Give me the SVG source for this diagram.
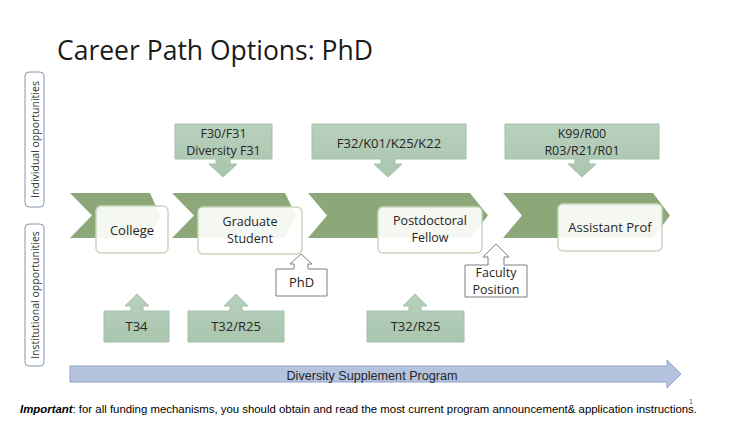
<svg xmlns="http://www.w3.org/2000/svg" width="750" height="422" viewBox="0 0 750 422">
<defs>
<linearGradient id="cg" x1="0" y1="0" x2="0" y2="1">
<stop offset="0" stop-color="#B8D0BC"/>
<stop offset="1" stop-color="#A9C6AF"/>
</linearGradient>
<style>
.t{font-family:"Open Sans","Liberation Sans",sans-serif;fill:#262626;text-anchor:middle;}
.lbl{font-size:13px;}
.lb2{font-size:12.5px;}
.side{font-family:"Open Sans","Liberation Sans",sans-serif;font-size:10.5px;fill:#333333;text-anchor:middle;}
.chev{fill:#8DA878;}
.stage{fill:#FFFFFF;fill-opacity:0.9;stroke:#C8D7BC;stroke-width:1.5;}
.call{fill:url(#cg);stroke:#A3C0A8;stroke-width:1;}
.wcall{fill:#FFFFFF;stroke:#7F7F7F;stroke-width:1;}
.sidebox{fill:#FFFFFF;stroke:#8497B0;stroke-width:1;}
</style>
</defs>
<rect width="750" height="422" fill="#FFFFFF"/>
<text x="57" y="60" font-family="Open Sans, Liberation Sans, sans-serif" font-size="28" fill="#1a1a1a" textLength="316" lengthAdjust="spacingAndGlyphs">Career Path Options: PhD</text>

<g id="side-individual">
<rect class="sidebox" x="25" y="72" width="19" height="135" rx="4"/>
<text class="side" transform="translate(38.5,139.5) rotate(-90)">Individual opportunities</text>
</g>
<g id="side-institutional">
<rect class="sidebox" x="25" y="224" width="19" height="142" rx="4"/>
<text class="side" transform="translate(38.5,295) rotate(-90)">Institutional opportunities</text>
</g>

<g id="chevrons">
<path class="chev" d="M70,193 H150 L160,215.5 L150,238 H70 L92,215.5 Z"/>
<path class="chev" d="M172,193 H285 L296,215.5 L285,238 H172 L194,215.5 Z"/>
<path class="chev" d="M308,193 H470 L488,215.5 L470,238 H308 L327,215.5 Z"/>
<path class="chev" d="M503,193 H653 L670,215.5 L653,238 H503 L522,215.5 Z"/>
</g>

<g id="college">
<rect class="stage" x="96" y="206" width="72" height="47" rx="5"/>
<text class="t lbl" x="132" y="234.5">College</text>
</g>
<g id="graduate">
<rect class="stage" x="198" y="207" width="104" height="47" rx="5"/>
<text class="t lb2" x="250" y="225.5">Graduate</text>
<text class="t lb2" x="250" y="242.5">Student</text>
</g>
<g id="postdoc">
<rect class="stage" x="378" y="207" width="104" height="46" rx="5"/>
<text class="t lb2" x="430" y="224.5">Postdoctoral</text>
<text class="t lb2" x="430" y="241.5">Fellow</text>
</g>
<g id="assistant">
<rect class="stage" x="558" y="204" width="104" height="47" rx="5"/>
<text class="t lbl" x="610" y="231.5">Assistant Prof</text>
</g>

<g id="f30">
<path class="call" d="M175,124 H272 V159 H230 V164 H237 L223,177 L209,164 H216 V159 H175 Z"/>
<text class="t lb2" x="223.5" y="137.5">F30/F31</text>
<text class="t lb2" x="223.5" y="154.5">Diversity F31</text>
</g>
<g id="f32">
<path class="call" d="M312,124 H466 V159 H395 V164 H402 L388,177 L374,164 H381 V159 H312 Z"/>
<text class="t lbl" x="389" y="147.5">F32/K01/K25/K22</text>
</g>
<g id="k99">
<path class="call" d="M505,124 H659 V159 H589 V164 H596 L582,177 L568,164 H575 V159 H505 Z"/>
<text class="t lb2" x="582" y="137.5">K99/R00</text>
<text class="t lb2" x="582" y="154.5">R03/R21/R01</text>
</g>

<g id="t34">
<path class="call" d="M104,311 H131 V306 H125 L137,294 L149,306 H143 V311 H169 V342 H104 Z"/>
<text class="t lbl" x="136.5" y="331">T34</text>
</g>
<g id="t32-grad">
<path class="call" d="M188,311 H230 V306 H224 L236,294 L248,306 H242 V311 H284 V342 H188 Z"/>
<text class="t lbl" x="236" y="331">T32/R25</text>
</g>
<g id="t32-postdoc">
<path class="call" d="M367,311 H409 V306 H403 L415,294 L427,306 H421 V311 H464 V342 H367 Z"/>
<text class="t lbl" x="415.5" y="331">T32/R25</text>
</g>

<g id="phd">
<path class="wcall" d="M276,269 H294 V264 H290 L301,254 L312,264 H308 V269 H327 V296 H276 Z"/>
<text class="t lbl" x="301.5" y="287">PhD</text>
</g>
<g id="faculty">
<path class="wcall" d="M465,265 H488 V257 H483 L496,244 L509,257 H504 V265 H527 V297 H465 Z"/>
<text class="t lb2" x="496" y="276.5">Faculty</text>
<text class="t lb2" x="496" y="293.5">Position</text>
</g>

<g id="connectors">
<path d="M70,366 H667 V360 L681,374 L667,388 V382 H70 Z" fill="#B4C3DE" stroke="#8FA3C9" stroke-width="1"/>
<text x="372" y="380" font-family="Liberation Sans, Arial, sans-serif" font-size="12" fill="#262626" text-anchor="middle" textLength="171" lengthAdjust="spacingAndGlyphs">Diversity Supplement Program</text>
</g>

<text x="689" y="404" font-family="Liberation Sans, Arial, sans-serif" font-size="7" fill="#595959">1</text>
<text x="20" y="413" font-family="Liberation Sans, Arial, sans-serif" font-size="10.5" fill="#000000" textLength="677" lengthAdjust="spacingAndGlyphs"><tspan font-weight="bold" font-style="italic">Important</tspan>: for all funding mechanisms, you should obtain and read the most current program announcement&amp; application instructions.</text>
</svg>
